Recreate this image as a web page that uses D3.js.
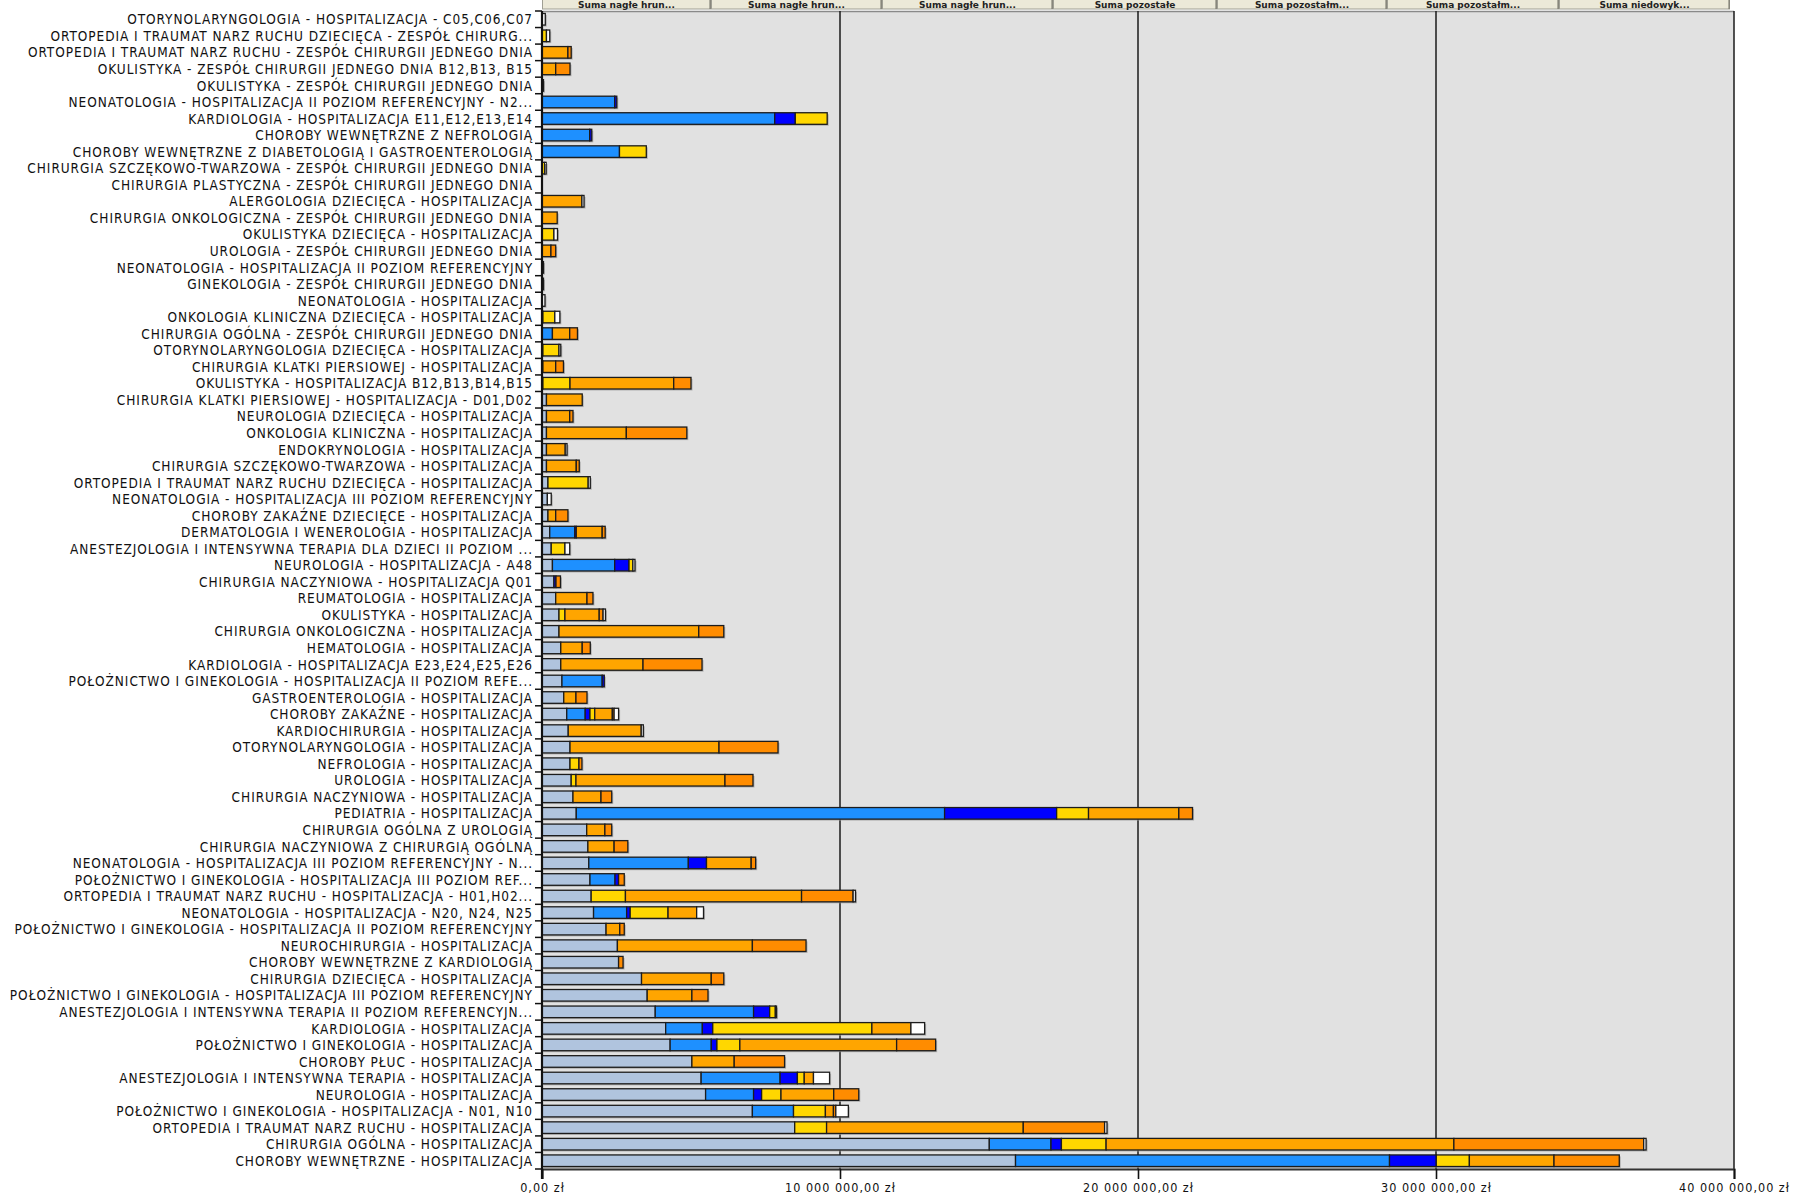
<!DOCTYPE html>
<html><head><meta charset="utf-8">
<script src="https://cdn.jsdelivr.net/npm/d3@7"></script>
<style>body{margin:0;background:#fff;overflow:hidden} svg{display:block}</style>
</head><body><svg id="c" width="1793" height="1197"></svg>
<script>
const categories = [
"OTORYNOLARYNGOLOGIA - HOSPITALIZACJA - C05,C06,C07",
"ORTOPEDIA I TRAUMAT NARZ RUCHU DZIECIĘCA - ZESPÓŁ CHIRURG...",
"ORTOPEDIA I TRAUMAT NARZ RUCHU - ZESPÓŁ CHIRURGII JEDNEGO DNIA",
"OKULISTYKA - ZESPÓŁ CHIRURGII JEDNEGO DNIA B12,B13, B15",
"OKULISTYKA -  ZESPÓŁ CHIRURGII JEDNEGO DNIA",
"NEONATOLOGIA - HOSPITALIZACJA II POZIOM REFERENCYJNY - N2...",
"KARDIOLOGIA - HOSPITALIZACJA E11,E12,E13,E14",
"CHOROBY WEWNĘTRZNE Z NEFROLOGIĄ",
"CHOROBY WEWNĘTRZNE Z DIABETOLOGIĄ I GASTROENTEROLOGIĄ",
"CHIRURGIA SZCZĘKOWO-TWARZOWA - ZESPÓŁ CHIRURGII JEDNEGO DNIA",
"CHIRURGIA PLASTYCZNA - ZESPÓŁ CHIRURGII JEDNEGO DNIA",
"ALERGOLOGIA DZIECIĘCA - HOSPITALIZACJA",
"CHIRURGIA ONKOLOGICZNA - ZESPÓŁ CHIRURGII JEDNEGO DNIA",
"OKULISTYKA DZIECIĘCA - HOSPITALIZACJA",
"UROLOGIA -  ZESPÓŁ CHIRURGII JEDNEGO DNIA",
"NEONATOLOGIA -  HOSPITALIZACJA II POZIOM REFERENCYJNY",
"GINEKOLOGIA -  ZESPÓŁ CHIRURGII JEDNEGO DNIA",
"NEONATOLOGIA  -  HOSPITALIZACJA",
"ONKOLOGIA KLINICZNA DZIECIĘCA - HOSPITALIZACJA",
"CHIRURGIA OGÓLNA -  ZESPÓŁ CHIRURGII JEDNEGO DNIA",
"OTORYNOLARYNGOLOGIA DZIECIĘCA - HOSPITALIZACJA",
"CHIRURGIA KLATKI PIERSIOWEJ - HOSPITALIZACJA",
"OKULISTYKA - HOSPITALIZACJA B12,B13,B14,B15",
"CHIRURGIA KLATKI PIERSIOWEJ - HOSPITALIZACJA - D01,D02",
"NEUROLOGIA DZIECIĘCA - HOSPITALIZACJA",
"ONKOLOGIA KLINICZNA - HOSPITALIZACJA",
"ENDOKRYNOLOGIA - HOSPITALIZACJA",
"CHIRURGIA SZCZĘKOWO-TWARZOWA - HOSPITALIZACJA",
"ORTOPEDIA I TRAUMAT NARZ RUCHU DZIECIĘCA - HOSPITALIZACJA",
"NEONATOLOGIA -  HOSPITALIZACJA III POZIOM REFERENCYJNY",
"CHOROBY ZAKAŹNE DZIECIĘCE - HOSPITALIZACJA",
"DERMATOLOGIA I WENEROLOGIA - HOSPITALIZACJA",
"ANESTEZJOLOGIA I INTENSYWNA TERAPIA DLA DZIECI II POZIOM ...",
"NEUROLOGIA - HOSPITALIZACJA - A48",
"CHIRURGIA NACZYNIOWA - HOSPITALIZACJA Q01",
"REUMATOLOGIA - HOSPITALIZACJA",
"OKULISTYKA - HOSPITALIZACJA",
"CHIRURGIA ONKOLOGICZNA - HOSPITALIZACJA",
"HEMATOLOGIA -  HOSPITALIZACJA",
"KARDIOLOGIA - HOSPITALIZACJA E23,E24,E25,E26",
"POŁOŻNICTWO I GINEKOLOGIA - HOSPITALIZACJA II POZIOM REFE...",
"GASTROENTEROLOGIA - HOSPITALIZACJA",
"CHOROBY ZAKAŹNE - HOSPITALIZACJA",
"KARDIOCHIRURGIA - HOSPITALIZACJA",
"OTORYNOLARYNGOLOGIA - HOSPITALIZACJA",
"NEFROLOGIA - HOSPITALIZACJA",
"UROLOGIA - HOSPITALIZACJA",
"CHIRURGIA NACZYNIOWA -  HOSPITALIZACJA",
"PEDIATRIA -  HOSPITALIZACJA",
"CHIRURGIA OGÓLNA Z UROLOGIĄ",
"CHIRURGIA NACZYNIOWA Z CHIRURGIĄ OGÓLNĄ",
"NEONATOLOGIA - HOSPITALIZACJA III POZIOM REFERENCYJNY - N...",
"POŁOŻNICTWO I GINEKOLOGIA - HOSPITALIZACJA III POZIOM REF...",
"ORTOPEDIA I TRAUMAT NARZ RUCHU - HOSPITALIZACJA - H01,H02...",
"NEONATOLOGIA - HOSPITALIZACJA - N20, N24, N25",
"POŁOŻNICTWO I GINEKOLOGIA - HOSPITALIZACJA II POZIOM REFERENCYJNY",
"NEUROCHIRURGIA - HOSPITALIZACJA",
"CHOROBY WEWNĘTRZNE Z KARDIOLOGIĄ",
"CHIRURGIA DZIECIĘCA -  HOSPITALIZACJA",
"POŁOŻNICTWO I GINEKOLOGIA - HOSPITALIZACJA III POZIOM REFERENCYJNY",
"ANESTEZJOLOGIA I INTENSYWNA TERAPIA II POZIOM REFERENCYJN...",
"KARDIOLOGIA - HOSPITALIZACJA",
"POŁOŻNICTWO I  GINEKOLOGIA -  HOSPITALIZACJA",
"CHOROBY PŁUC - HOSPITALIZACJA",
"ANESTEZJOLOGIA I INTENSYWNA TERAPIA  - HOSPITALIZACJA",
"NEUROLOGIA - HOSPITALIZACJA",
"POŁOŻNICTWO I GINEKOLOGIA - HOSPITALIZACJA - N01, N10",
"ORTOPEDIA I TRAUMAT NARZ RUCHU - HOSPITALIZACJA",
"CHIRURGIA OGÓLNA -  HOSPITALIZACJA",
"CHOROBY WEWNĘTRZNE -  HOSPITALIZACJA"
];

// values in millions of zł
const nagle1 = [0,0,0,0,0,0,0,0,0,0, 0,0,0,0,0,0,0,0,0.03,0, 0.03,0.03,0.03,0.15,0.15,0.15,0.15,0.15,0.20,0.18, 0.20,0.26,0.31,0.35,0.40,0.46,0.57,0.57,0.63,0.63, 0.67,0.73,0.83,0.88,0.94,0.94,0.98,1.04,1.15,1.50, 1.54,1.57,1.61,1.65,1.73,2.15,2.53,2.57,3.34,3.53, 3.80,4.15,4.30,5.03,5.34,5.49,7.06,8.48,15.01,15.89];
const nagle2 = [0,0,0,0,0,2.44,7.81,1.60,2.60,0, 0,0,0,0,0,0,0,0,0,0.35, 0,0,0,0,0,0,0,0,0,0, 0,0.84,0,2.09,0,0,0,0,0,0, 1.35,0,0.62,0,0,0,0,0,12.36,0, 0,3.34,0.84,0,1.11,0,0,0,0,0, 3.30,1.23,1.38,0,2.65,1.61,1.38,0,2.07,12.55];
const nagle3 = [0,0,0,0,0,0.07,0.69,0.07,0,0, 0,0,0,0,0,0,0,0,0,0, 0,0,0,0,0,0,0,0,0,0, 0,0.05,0,0.48,0.07,0,0,0,0,0, 0.07,0,0.16,0,0,0,0,0,3.76,0, 0,0.61,0.12,0,0.12,0,0,0,0,0, 0.54,0.35,0.19,0,0.58,0.27,0,0,0.35,1.57];
const pozost1 = [0,0.15,0,0,0,0,1.07,0,0.90,0.09, 0,0,0,0.40,0,0,0,0,0.40,0, 0.54,0,0.91,0,0,0,0,0,1.35,0, 0,0,0.46,0.13,0,0,0.20,0,0,0, 0,0,0.16,0,0,0.30,0.16,0,1.07,0, 0,0,0,1.15,1.27,0,0,0,0,0, 0.19,5.34,0.77,0,0.23,0.65,1.07,1.07,1.50,1.11];
const pozost2 = [0,0,0.87,0.46,0,0,0,0,0,0, 0,1.34,0.51,0,0.30,0,0,0,0,0.58, 0,0.43,3.48,1.20,0.78,2.68,0.63,1.00,0,0, 0.26,0.87,0,0,0,1.05,1.15,4.69,0.72,2.76, 0,0.41,0.59,2.45,5.00,0,5.00,0.94,3.03,0.61, 0.88,1.50,0,5.91,0.96,0.46,4.53,0,2.34,1.50, 0,1.31,5.26,1.42,0.31,1.77,0.27,6.60,11.67,2.84];
const pozost3 = [0,0,0.11,0.48,0,0,0,0,0,0, 0,0,0,0,0.16,0,0,0,0,0.26, 0,0.26,0.58,0,0.11,2.03,0,0.10,0,0, 0.41,0.10,0,0,0.15,0.20,0.13,0.84,0.27,1.98, 0,0.37,0.06,0,1.98,0.10,0.94,0.36,0.46,0.23, 0.46,0.15,0.19,1.73,0,0.15,1.80,0.15,0.42,0.54, 0,0,1.31,1.69,0,0.84,0.08,2.73,6.37,2.19];
const niedowyk = [0.11,0.11,0,0,0.05,0,0,0,0,0.05, 0,0.07,0,0.12,0,0.05,0.05,0.10,0.17,0, 0.06,0,0,0,0,0,0.06,0,0.07,0.13, 0,0,0.16,0.07,0,0,0.08,0,0,0, 0,0,0.15,0.07,0,0,0,0,0,0, 0,0,0,0.08,0.23,0,0,0,0,0, 0.04,0.46,0,0,0.54,0,0.42,0.08,0.08,0];

const seriesNames = ["Suma nagłe hrun...","Suma nagłe hrun...","Suma nagłe hrun...","Suma pozostałe","Suma pozostałm...","Suma pozostałm...","Suma niedowyk..."];
const seriesValues = [nagle1,nagle2,nagle3,pozost1,pozost2,pozost3,niedowyk];
const seriesColors = ["#B0C4DE","#1E90FF","#0000FF","#FFD700","#FFA500","#FF8C00","#FFFFFF"];
const xTickValues = [0,10000000,20000000,30000000,40000000];

const keys = seriesValues.map((_,i)=>"s"+i);
const table = categories.map((c,ci)=>{
  const o = {cat:c};
  seriesValues.forEach((arr,si)=>{ o["s"+si] = arr[ci]*1e6; });
  return o;
});

const svg = d3.select("#c");
const L = 542, R = 1734, T = 11, B = 1169;
const x = d3.scaleLinear().domain([0,40000000]).range([L,R]);
const y = d3.scaleBand().domain(categories).range([T,B]).paddingInner(0.3).paddingOuter(0.15);
const color = d3.scaleOrdinal().domain(keys).range(seriesColors);

// plot background
svg.append("rect").attr("x",L).attr("y",T).attr("width",R-L).attr("height",B-T).attr("fill","#E1E1E1");
svg.append("line").attr("x1",L).attr("x2",R).attr("y1",T+0.5).attr("y2",T+0.5).attr("stroke","#8a8a8a").attr("stroke-width",1.5);

// vertical gridlines
svg.append("g").selectAll("line").data(xTickValues.slice(1)).join("line")
  .attr("x1",d=>x(d)).attr("x2",d=>x(d)).attr("y1",T).attr("y2",B)
  .attr("stroke","#1a1a1a").attr("stroke-width",1.5);

// bars
const stacked = d3.stack().keys(keys)(table);
const totals = table.map(r=>keys.reduce((s,k)=>s+r[k],0));
svg.append("g").selectAll("rect").data(table).join("rect")
  .attr("x",x(0)+1.5).attr("y",d=>y(d.cat)+1.5)
  .attr("width",(d,i)=>Math.max(0,x(totals[i])-x(0)))
  .attr("height",y.bandwidth())
  .attr("fill","#9c9c9c").attr("opacity",0.7);

svg.append("g").selectAll("g").data(stacked).join("g")
  .attr("fill",d=>color(d.key))
  .selectAll("rect").data(d=>d.filter(s=>s[1]-s[0]>0)).join("rect")
  .attr("x",d=>x(d[0])).attr("y",d=>y(d.data.cat))
  .attr("width",d=>x(d[1])-x(d[0]))
  .attr("height",y.bandwidth())
  .attr("stroke","#1c1c1c").attr("stroke-width",1.3);

// x axis
const pl = d3.formatLocale({decimal:",",thousands:" ",grouping:[3],currency:[""," zł"]});
const fmt = pl.format("$,.2f");
const xAxis = svg.append("g").attr("transform",`translate(0,${B})`)
  .call(d3.axisBottom(x).tickValues(xTickValues).tickFormat(fmt).tickSize(10).tickPadding(4));
xAxis.select(".domain").attr("stroke","#333").attr("stroke-width",2);
xAxis.selectAll(".tick line").attr("stroke","#111").attr("stroke-width",1.6);
xAxis.selectAll("text").attr("font-family","'DejaVu Sans Condensed','DejaVu Sans',sans-serif")
  .attr("font-stretch","condensed").attr("font-size",12.5).attr("letter-spacing","1px").attr("fill","#111");

// y axis
const yAxis = svg.append("g").attr("transform",`translate(${L},0)`)
  .call(d3.axisLeft(y).tickSize(0).tickPadding(9));
yAxis.select(".domain").remove();
yAxis.selectAll("text").attr("font-family","'Liberation Sans Narrow','DejaVu Sans Condensed','DejaVu Sans',sans-serif")
  .attr("font-stretch","condensed").attr("font-size",13.5).attr("letter-spacing","0.95px")
  .attr("fill","#111").attr("dy","0.38em");
// boundary ticks
const bounds = categories.map(c=>y(c)-y.step()*y.paddingInner()/2).concat([B]);
svg.append("g").selectAll("line").data(bounds).join("line")
  .attr("x1",L-7).attr("x2",L).attr("y1",d=>d).attr("y2",d=>d)
  .attr("stroke","#111").attr("stroke-width",1.5);
svg.append("line").attr("x1",L).attr("x2",L).attr("y1",T).attr("y2",B+10)
  .attr("stroke","#111").attr("stroke-width",2.2);

// legend strip along the top edge
const legX = [542,711,882,1053,1217,1387,1559,1730];
const leg = svg.append("g").selectAll("g").data(seriesNames).join("g");
leg.append("rect").attr("x",(d,i)=>legX[i]+0.5).attr("y",-14)
  .attr("width",(d,i)=>legX[i+1]-legX[i]-1).attr("height",23)
  .attr("fill","#ECE9D8").attr("stroke","#a09f94").attr("stroke-width",1);
leg.append("line").attr("x1",(d,i)=>legX[i+1]-1).attr("x2",(d,i)=>legX[i+1]-1).attr("y1",0).attr("y2",9)
  .attr("stroke","#716f64").attr("stroke-width",1);
leg.append("text").attr("x",(d,i)=>(legX[i]+legX[i+1])/2).attr("y",7.5)
  .attr("text-anchor","middle").attr("font-family","'DejaVu Sans',sans-serif")
  .attr("font-size",9).attr("font-weight","bold").attr("fill","#222").text(d=>d);
</script>
</body></html>
